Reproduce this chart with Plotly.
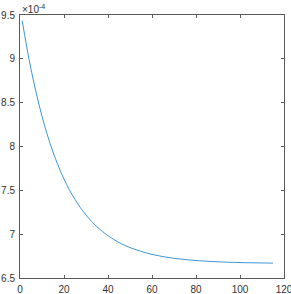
import plotly.graph_objects as go

# data (y in units of 1e-4)
x_vals = [1, 5, 10, 15, 20, 25, 30, 35, 40, 45, 50, 60, 70, 80, 90, 100, 115]
y_vals = [9.435, 8.883, 8.345, 7.937, 7.629, 7.395, 7.218, 7.084, 6.982, 6.905,
          6.847, 6.769, 6.725, 6.699, 6.685, 6.676, 6.670]
x_ticks = [0, 20, 40, 60, 80, 100, 120]
y_ticks = [6.5, 7, 7.5, 8, 8.5, 9, 9.5]
y_tick_text = ["6.5", "7", "7.5", "8", "8.5", "9", "9.5"]

fig = go.Figure()
fig.add_trace(go.Scatter(x=x_vals, y=y_vals, mode="lines",
                         line=dict(color="#3d97d6", width=1, shape="spline"),
                         showlegend=False, hoverinfo="skip"))

axis_common = dict(showline=True, linecolor="#5a5a5a", linewidth=1, mirror="allticks",
                   ticks="inside", ticklen=3, tickwidth=1, tickcolor="#5a5a5a",
                   showgrid=False, zeroline=False, automargin=False,
                   ticklabeloverflow="allow",
                   tickfont=dict(family="Liberation Sans, Arial", size=10, color="#333333"))

fig.update_layout(
    width=291, height=294,
    margin=dict(l=20, r=7, t=15, b=16),
    plot_bgcolor="white", paper_bgcolor="white",
    xaxis=dict(range=[0, 120], tickvals=x_ticks, ticklabelstandoff=2, **axis_common),
    yaxis=dict(range=[6.5, 9.5], tickvals=y_ticks, ticktext=y_tick_text, ticklabelstandoff=2, **axis_common),
    annotations=[dict(x=0, y=1, xref="paper", yref="paper", xanchor="left", yanchor="bottom",
                      text="×10<sup>-4</sup>", showarrow=False, yshift=-2,
                      font=dict(family="Liberation Sans, Arial", size=10, color="#333333"))],
)
fig.write_html("out.html", config={"displayModeBar": False},
               post_script="document.body.style.margin='0';document.body.style.padding='0';document.body.style.overflow='hidden';")
